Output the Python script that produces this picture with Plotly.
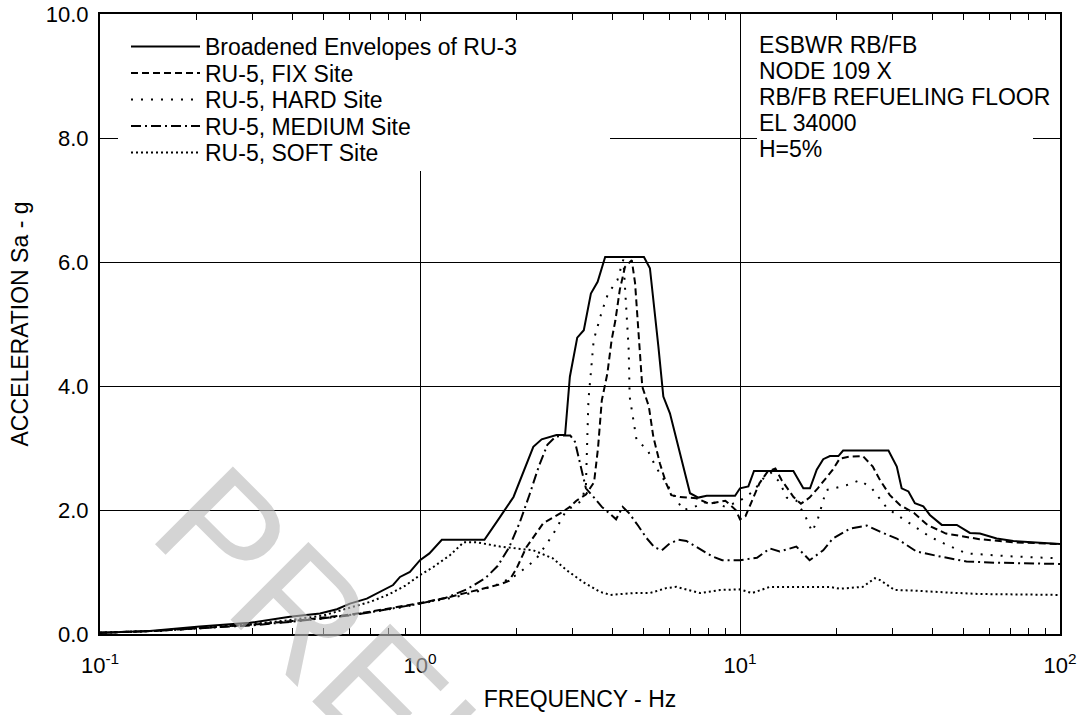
import plotly.graph_objects as go

# ---------------- data ----------------
freq_ru3 = [0.1, 0.143, 0.205, 0.294, 0.392, 0.487, 0.55, 0.604, 0.682, 0.768, 0.824, 0.866, 0.93, 1.0,
            1.07, 1.17, 1.59, 1.78, 1.96, 2.26, 2.40, 2.67, 2.84, 2.94, 3.10, 3.25, 3.42, 3.59, 3.79,
            5.01, 5.23, 5.56, 5.76, 6.04, 6.98, 7.41, 7.87, 9.65, 10.0, 10.62, 11.06, 14.68, 15.77,
            16.55, 17.37, 18.2, 19.1, 20.3, 21.0, 29.1, 30.9, 32.0, 33.6, 35.2, 37.4, 39.2, 42.7,
            47.6, 52.3, 56.2, 63.4, 71.5, 80.6, 100]
sa_ru3 = [0.02, 0.05, 0.12, 0.18, 0.28, 0.33, 0.40, 0.49, 0.57, 0.71, 0.79, 0.92, 1.00, 1.19,
          1.30, 1.52, 1.52, 1.89, 2.21, 3.02, 3.14, 3.21, 3.21, 4.15, 4.78, 4.90, 5.49, 5.68, 6.08,
          6.08, 5.90, 4.63, 3.83, 3.56, 2.27, 2.20, 2.23, 2.23, 2.35, 2.38, 2.63, 2.63, 2.35,
          2.35, 2.65, 2.82, 2.87, 2.87, 2.96, 2.96, 2.70, 2.35, 2.30, 2.11, 2.06, 1.92, 1.76,
          1.76, 1.63, 1.62, 1.54, 1.50, 1.48, 1.45]

freq_fix = [0.1, 0.15, 0.2, 0.3, 0.4, 0.5, 0.6, 0.7, 0.8, 0.9, 1.0, 1.2, 1.5, 1.78, 1.9, 2.0, 2.15,
            2.43, 2.75, 2.94, 3.08, 3.3, 3.5, 3.6, 3.7, 3.85, 3.97, 4.08, 4.21, 4.37, 4.59, 4.7,
            4.95, 5.19, 5.36, 5.62, 5.88, 6.1, 6.49, 7.3, 8.0, 9.0, 9.7, 10.0, 10.4, 11.0, 11.5,
            12.2, 12.9, 13.5, 14.7, 15.5, 16.5, 17.5, 19.5, 20.5, 22.0, 24.2, 26.0, 27.4, 29.4,
            31.6, 35.0, 38.5, 44.0, 56.0, 71.0, 100]
sa_fix = [0.02, 0.05, 0.09, 0.15, 0.21, 0.26, 0.31, 0.36, 0.41, 0.45, 0.50, 0.58, 0.70, 0.80, 0.86,
          1.05, 1.40, 1.79, 1.95, 2.05, 2.15, 2.25, 2.45, 3.00, 3.77, 4.20, 4.74, 5.06, 5.55, 5.92,
          6.03, 5.66, 3.99, 3.67, 3.18, 2.75, 2.43, 2.24, 2.21, 2.19, 2.10, 2.15, 2.00, 1.85,
          1.90, 2.20, 2.43, 2.62, 2.67, 2.48, 2.21, 2.10, 2.20, 2.35, 2.65, 2.83, 2.86, 2.87,
          2.70, 2.48, 2.24, 2.08, 1.95, 1.76, 1.62, 1.53, 1.48, 1.45]

freq_hard = [0.1, 0.15, 0.2, 0.3, 0.4, 0.5, 0.6, 0.7, 0.8, 0.9, 1.0, 1.25, 1.5, 1.75, 2.0, 2.3, 2.6,
             2.87, 3.0, 3.2, 3.3, 3.36, 3.49, 3.7, 3.87, 4.14, 4.32, 4.49, 4.52, 4.75, 5.14, 5.45,
             5.88, 6.64, 7.2, 8.0, 9.0, 10.0, 11.0, 12.0, 12.5, 13.3, 14.0, 15.0, 16.0, 16.8, 17.5,
             18.6, 21.5, 23.7, 25.8, 28.8, 31.6, 39.2, 44.2, 51.0, 71.5, 100]
sa_hard = [0.02, 0.05, 0.09, 0.15, 0.20, 0.25, 0.30, 0.35, 0.40, 0.44, 0.49, 0.58, 0.68, 0.80, 0.95,
           1.20, 1.60, 2.00, 2.05, 2.15, 2.40, 3.77, 4.74, 5.20, 5.49, 5.71, 6.04, 4.58, 3.83, 3.13,
           2.97, 2.70, 2.43, 2.00, 2.05, 2.15, 2.05, 2.15, 2.30, 2.55, 2.60, 2.45, 2.20, 2.15,
           1.90, 1.65, 1.85, 2.32, 2.40, 2.48, 2.35, 2.03, 1.89, 1.57, 1.44, 1.30, 1.25, 1.22]

freq_medium = [0.1, 0.15, 0.2, 0.3, 0.4, 0.5, 0.6, 0.7, 0.8, 0.9, 1.0, 1.2, 1.4, 1.6, 1.75, 1.9, 2.05,
               2.2, 2.35, 2.5, 2.65, 2.8, 2.95, 3.05, 3.15, 3.3, 3.5, 3.7, 3.9, 4.1, 4.3, 4.5, 4.8,
               5.1, 5.4, 5.7, 6.0, 6.4, 6.8, 7.3, 8.2, 8.8, 10.0, 11.3, 12.4, 13.3, 15.0, 16.5,
               18.2, 19.5, 22.1, 24.9, 27.4, 30.9, 35.6, 42.2, 51.0, 63.0, 100]
sa_medium = [0.02, 0.05, 0.09, 0.14, 0.20, 0.25, 0.30, 0.35, 0.40, 0.44, 0.49, 0.58, 0.72, 0.90, 1.10,
             1.40, 1.80, 2.25, 2.70, 3.05, 3.18, 3.20, 3.20, 3.10, 2.80, 2.35, 2.20, 2.05, 1.95,
             1.85, 2.05, 1.95, 1.75, 1.55, 1.40, 1.35, 1.45, 1.52, 1.50, 1.41, 1.25, 1.19, 1.19,
             1.23, 1.38, 1.33, 1.41, 1.19, 1.35, 1.54, 1.70, 1.75, 1.65, 1.54, 1.33, 1.25, 1.17,
             1.15, 1.13]

freq_soft = [0.1, 0.15, 0.2, 0.3, 0.4, 0.5, 0.6, 0.7, 0.8, 0.9, 1.0, 1.1, 1.24, 1.37, 1.5, 1.78, 2.0,
             2.26, 2.6, 2.87, 3.23, 3.65, 3.94, 4.64, 5.23, 5.88, 6.33, 7.0, 7.5, 8.66, 10.0, 10.9,
             12.4, 15.0, 19.1, 20.5, 24.2, 26.4, 27.4, 30.4, 34.9, 44.2, 56.2, 100]
sa_soft = [0.02, 0.05, 0.10, 0.16, 0.23, 0.30, 0.42, 0.52, 0.64, 0.78, 0.95, 1.08, 1.27, 1.48, 1.48,
           1.41, 1.38, 1.35, 1.22, 1.03, 0.84, 0.68, 0.63, 0.66, 0.66, 0.74, 0.76, 0.70, 0.66,
           0.71, 0.72, 0.66, 0.76, 0.76, 0.76, 0.73, 0.76, 0.90, 0.87, 0.71, 0.70, 0.67, 0.645, 0.63]

series_names = ["Broadened Envelopes of RU-3", "RU-5, FIX Site", "RU-5, HARD Site",
                "RU-5, MEDIUM Site", "RU-5, SOFT Site"]
info_lines = ["ESBWR RB/FB", "NODE 109 X", "RB/FB REFUELING FLOOR", "EL 34000", "H=5%"]
x_tickvals = [0.1, 1, 10, 100]
x_ticktext = ["10<sup>-1</sup>", "10<sup>0</sup>", "10<sup>1</sup>", "10<sup>2</sup>"]
y_tickvals = [0, 2, 4, 6, 8, 10]
watermark = "PRELIMINARY"

# ---------------- figure ----------------
FONT = "Liberation Sans, Arial, sans-serif"
series = [(freq_ru3, sa_ru3, "solid"),
          (freq_fix, sa_fix, "7px,4px"),
          (freq_hard, sa_hard, "2px,8px"),
          (freq_medium, sa_medium, "10px,4px,2px,4px"),
          (freq_soft, sa_soft, "2px,3px")]

fig = go.Figure()
legend_names = ["legend", "legend2", "legend3", "legend4", "legend5"]
for (fx, fy, dash), name, lg in zip(series, series_names, legend_names):
    fig.add_trace(go.Scatter(x=fx, y=fy, mode="lines", name=name, legend=lg,
                             line=dict(color="black", width=2, dash=dash)))

# the page body margin is removed (post_script below), so the figure fills the window
W, H = 1081, 715
PL, PR, PT, PB = 100, 1060, 14, 634          # plot area in window pixels
ML, MR, MT, MB = PL, W - PR, PT, H - PB
pw, ph = PR - PL, PB - PT


def px_x(p):
    return (p - PL) / pw


def px_y(p):
    return (PB - p) / ph


row_px = [46.5, 73, 99.5, 126, 152.5]
layout_legends = {}
for lg, r in zip(legend_names, row_px):
    layout_legends[lg] = dict(x=px_x(126), y=px_y(r), xanchor="left", yanchor="middle",
                              bgcolor="rgba(0,0,0,0)", borderwidth=0, itemwidth=69,
                              font=dict(family=FONT, size=23, color="black"))

minor_vals = [m * d for d in (0.1, 1, 10) for m in range(2, 10)]

fig.update_layout(
    width=W, height=H,
    margin=dict(l=ML, r=MR, t=MT, b=MB, autoexpand=False),
    paper_bgcolor="white", plot_bgcolor="white",
    font=dict(family=FONT, size=22, color="black"),
    showlegend=True,
    **layout_legends,
)

fig.update_xaxes(type="log", range=[-1, 2], tickmode="array", tickvals=x_tickvals,
                 ticktext=x_ticktext, showgrid=True, gridcolor="black", gridwidth=1,
                 ticks="inside", ticklen=8, tickcolor="black", tickwidth=1,
                 showline=True, linecolor="black", linewidth=2, mirror="ticks",
                 ticklabelstandoff=11, automargin=False, ticklabeloverflow="allow",
                 minor=dict(tickmode="array", tickvals=minor_vals, ticks="inside", ticklen=6,
                            tickcolor="black", tickwidth=1, showgrid=False),
                 title=dict(text="FREQUENCY - Hz", font=dict(size=23), standoff=13),
                 tickfont=dict(size=22))
fig.update_yaxes(range=[0, 10], tickmode="array", tickvals=y_tickvals, tickformat=".1f",
                 showgrid=True, gridcolor="black", gridwidth=1, zeroline=False,
                 ticks="", showline=True, linecolor="black", linewidth=2, mirror=True,
                 ticklabelstandoff=5, automargin=False, ticklabeloverflow="allow",
                 title=dict(text="ACCELERATION Sa - g", font=dict(size=23), standoff=11),
                 tickfont=dict(size=22))

# white panels behind legend and info text (cover the grid lines)
fig.add_shape(type="rect", xref="paper", yref="paper", layer="above",
              x0=px_x(118), x1=px_x(610), y0=px_y(171), y1=px_y(21),
              fillcolor="white", line=dict(width=0))
fig.add_shape(type="rect", xref="paper", yref="paper", layer="above",
              x0=px_x(757), x1=px_x(1033), y0=px_y(165), y1=px_y(21),
              fillcolor="white", line=dict(width=0))

info_rows = [45, 71, 97, 123, 149]
for txt, r in zip(info_lines, info_rows):
    fig.add_annotation(text=txt, xref="paper", yref="paper", x=px_x(757), y=px_y(r),
                       xanchor="left", yanchor="middle", showarrow=False,
                       font=dict(family=FONT, size=23, color="black"))

# watermark
fig.add_annotation(text=watermark, xref="paper", yref="paper", x=px_x(568), y=px_y(878),
                   xanchor="center", yanchor="middle", showarrow=False, textangle=45,
                   font=dict(family=FONT, size=160, color="rgba(185,185,185,0.62)"))

fig.write_html("out.html", config={"displayModeBar": False},
               post_script="document.body.style.margin='0';document.body.style.padding='0';")
